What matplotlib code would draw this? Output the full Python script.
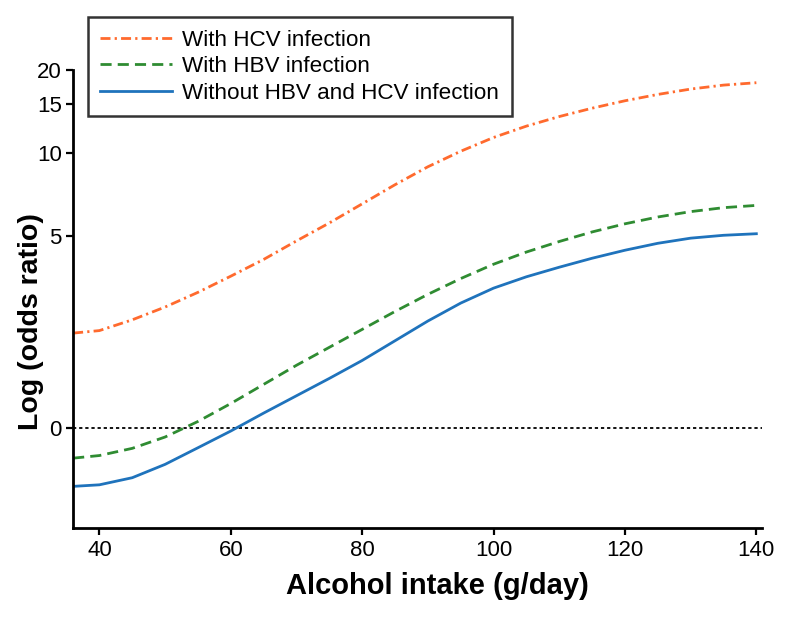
import numpy as np
import matplotlib
matplotlib.use('Agg')
from matplotlib import pyplot as plt

plt.rcParams['font.family'] = ['Liberation Sans', 'DejaVu Sans']

# alcohol intake (g/day) and odds ratios
intake = [36, 40, 45, 50, 55, 60, 65, 70, 75, 80, 85, 90, 95, 100,
          105, 110, 115, 120, 125, 130, 135, 140]
or_hcv = [2.212, 2.259, 2.472, 2.751, 3.111, 3.561, 4.096, 4.783, 5.557, 6.521, 7.652,
          8.891, 10.125, 11.359, 12.491, 13.531, 14.512, 15.441, 16.281, 17.030, 17.602, 17.957]
or_hbv = [0.7773, 0.7945, 0.8437, 0.9277, 1.0565, 1.2275, 1.4405, 1.6904, 1.964, 2.2818, 2.6512,
          3.0588, 3.4903, 3.9354, 4.358, 4.7588, 5.155, 5.518, 5.8415, 6.110, 6.3155, 6.4366]
or_none = [0.6139, 0.6220, 0.660, 0.7380, 0.8480, 0.9753, 1.1331, 1.310, 1.5144, 1.7595, 2.0751,
           2.4473, 2.8434, 3.222, 3.543, 3.8382, 4.1371, 4.4238, 4.688, 4.894, 5.0128, 5.0784]

ytick_vals = [1, 5, 10, 15, 20]
ytick_labels = ['0', '5', '10', '15', '20']
xtick_vals = [40, 60, 80, 100, 120, 140]

fig = plt.figure(figsize=(8, 6.18), dpi=100)
ax = fig.add_axes([0.091, 0.145, 0.861, 0.742])

ax.axhline(1, color='black', lw=1.3, linestyle=(0, (1.8, 1.6)), zorder=1)
ax.plot(intake, or_hcv, color='#ff6a2e', lw=2, linestyle=(0, (3.6, 1.5, 0.8, 1.5)),
        label='With HCV infection')
ax.plot(intake, or_hbv, color='#2f8c32', lw=2, linestyle=(0, (4, 2.2)),
        label='With HBV infection')
ax.plot(intake, or_none, color='#1f73bc', lw=2, label='Without HBV and HCV infection')

ax.set_yscale('log')
ax.set_ylim(0.432, 20)
ax.set_xlim(35.95, 140.8)
ax.set_yticks(ytick_vals)
ax.set_yticklabels(ytick_labels)
ax.yaxis.set_minor_locator(matplotlib.ticker.NullLocator())
ax.set_xticks(xtick_vals)

for side in ['top', 'right']:
    ax.spines[side].set_visible(False)
for side in ['left', 'bottom']:
    ax.spines[side].set_linewidth(2)
ax.tick_params(direction='out', length=5, width=1.6, labelsize=16, pad=3)

ax.set_xlabel('Alcohol intake (g/day)', fontsize=21, fontweight='bold')
ax.xaxis.set_label_coords(0.53, -0.095)
ax.set_ylabel('Log (odds ratio)', fontsize=20.5, fontweight='bold')
ax.yaxis.set_label_coords(-0.042, 0.45)

leg = ax.legend(loc='upper left', bbox_to_anchor=(0.11, 0.972),
                bbox_transform=fig.transFigure, fontsize=16.2, frameon=True,
                fancybox=False, handlelength=3.2, handletextpad=0.45,
                labelspacing=0.25, borderpad=0.55, borderaxespad=0)
leg.get_frame().set_edgecolor('black')
leg.get_frame().set_linewidth(1.8)

fig.savefig('out.png', dpi=100)
